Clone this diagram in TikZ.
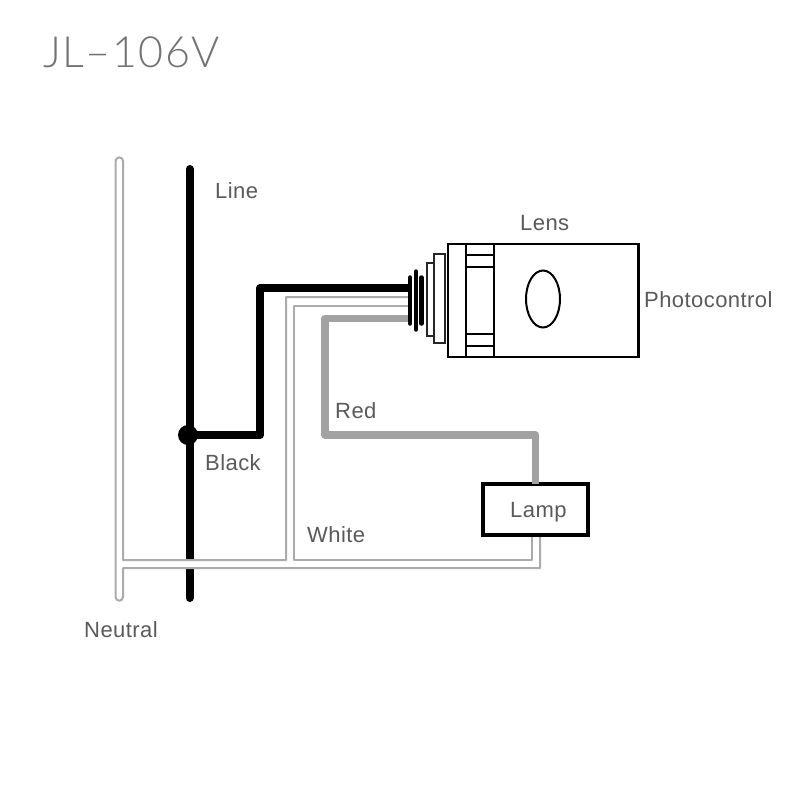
\documentclass[tikz,border=0pt]{standalone}
\usepackage{fontspec}
\usetikzlibrary{shapes.geometric}
\setmainfont[LetterSpace=2]{Liberation Sans}
\newfontfamily\titlefont[LetterSpace=3.5]{Lato Light}
\definecolor{txt}{HTML}{5A5A5A}
\definecolor{wirelt}{HTML}{ABABAB}
\definecolor{wirered}{HTML}{A2A2A2}
\tikzset{
  lbl/.style={anchor=base west,inner sep=0pt,text=txt,font=\fontsize{22}{26}\selectfont},
  thinwire/.style={draw=wirelt,line width=2pt,line join=round},
  blackwire/.style={draw=black,line width=8pt,line join=round},
  redwire/.style={draw=wirered,line width=7.5pt,line join=round},
  rib/.style={draw=black,line width=4.5pt,line cap=round},
  housing/.style={draw=black,line width=2.5pt,fill=white,inner sep=0pt,outer sep=0pt},
  flange/.style={draw=black!85,line width=2.2pt,fill=white,inner sep=0pt,outer sep=0pt}
}
\begin{document}
\begin{tikzpicture}[x=1pt,y=-1pt]
\useasboundingbox[fill=white] (0,0) rectangle (800,800);
% title
\node[anchor=base west,inner sep=0pt,text=black!55,font=\fontsize{43}{50}\selectfont\titlefont] (title) at (43,67) {JL–106V};
% coordinates
\coordinate (lineTop) at (189.5,169);
\coordinate (lineBot) at (189.5,598);
\coordinate (dotC) at (188,435);
\coordinate (bk1) at (260,435);
\coordinate (bk2) at (260,288);
\coordinate (bk3) at (410,288);
\coordinate (w1a) at (410,297);
\coordinate (w1b) at (286,297);
\coordinate (w1c) at (286,560);
\coordinate (w1d) at (123,560);
\coordinate (w2a) at (410,305.5);
\coordinate (w2b) at (294,305.5);
\coordinate (w2c) at (294,560);
\coordinate (w2d) at (532,560);
\coordinate (w2e) at (532,536);
\coordinate (w3a) at (123,568);
\coordinate (w3b) at (540,568);
\coordinate (w3c) at (540,536);
\coordinate (r1) at (410,318.5);
\coordinate (r2) at (325,318.5);
\coordinate (r3) at (325,435);
\coordinate (r4) at (535.5,435);
% main line
\draw[draw=black,line width=8pt,line cap=round] (lineTop) -- (lineBot);
% gap in line at crossing
\fill[white] (180,560) rectangle (198,568);
% neutral bar + white wires
\draw[thinwire] (w1a) -- (w1b) -- (w1c) -- (w1d) -- (123,161) arc[start angle=0,end angle=-180,radius=3.7] -- (115.6,597) arc[start angle=180,end angle=0,radius=3.7] -- (w3a) -- (w3b) -- (w3c);
\draw[thinwire] (w2a) -- (w2b) -- (w2c) -- (w2d) -- (w2e);
% black tap
\draw[blackwire] (dotC) -- (bk1) -- (bk2) -- (bk3);
\node[circle,fill=black,minimum size=20pt,inner sep=0pt] (dot) at (dotC) {};
% lamp and red wire
\node[draw=black,line width=4.5pt,fill=white,minimum width=105pt,minimum height=51pt,inner sep=0pt,outer sep=0pt] (lamp) at (535.5,509.5) {};
\draw[redwire] (r1) -- (r2) -- (r3) -- (r4) -- (r4 |- lamp.north);
% ribs
\draw[rib] (410,277.5) -- (410,323.5);
\draw[rib] (416,271.5) -- (416,329.5);
\draw[rib] (421.5,277.5) -- (421.5,323.5);
% flanges
\node[flange,minimum width=7.5pt,minimum height=73pt] (fl2) at (430.5,299.5) {};
\node[flange,minimum width=11pt,minimum height=89pt] (fl1) at (439.5,298.5) {};
% housing
\node[housing,minimum width=190.5pt,minimum height=113pt] (body) at (543,300.5) {};
\draw[draw=black,line width=2pt] (466,244) -- (466,357) (494,244) -- (494,357);
\draw[draw=black,line width=2pt] (466,254.7) -- (494,254.7) (466,266.7) -- (494,266.7) (466,334.3) -- (494,334.3) (466,346) -- (494,346);
\node[draw=black,line width=2pt,ellipse,minimum width=34pt,minimum height=57pt,inner sep=0pt] (lens) at (543,299) {};
% labels
\node[lbl] (tLine) at (215,198) {Line};
\node[lbl] (tLens) at (520,230) {Lens};
\node[lbl] (tPhoto) at (644,307) {Photocontrol};
\node[lbl] (tRed) at (335,418) {Red};
\node[lbl] (tBlack) at (205,470) {Black};
\node[lbl] (tWhite) at (307,542) {White};
\node[lbl] (tLamp) at (510,517) {Lamp};
\node[lbl] (tNeutral) at (84,637) {Neutral};
\end{tikzpicture}
\end{document}
